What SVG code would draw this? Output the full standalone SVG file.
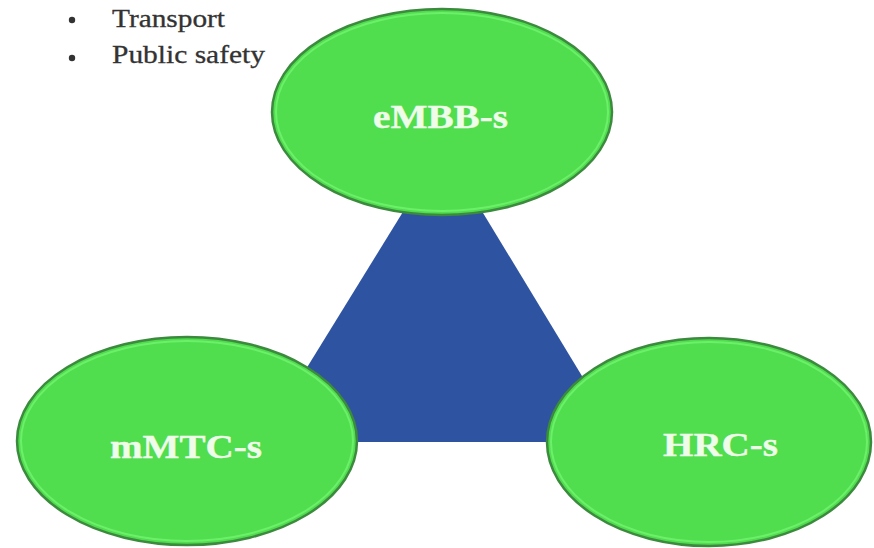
<svg xmlns="http://www.w3.org/2000/svg" width="874" height="548" viewBox="0 0 874 548">
<style>
.node ellipse.body{fill:#50dd4e;stroke:#3b8a3d;stroke-width:2.5}
.node ellipse.rim{fill:none;stroke:#6cf06a;stroke-width:2}
.label{font-family:"Liberation Serif","Times New Roman",serif;font-weight:bold;font-size:34px;fill:#effcea;stroke:#effcea;stroke-width:0.4}
.bullet{font-family:"Liberation Serif","Times New Roman",serif;font-size:25px;fill:#333333;stroke:#333333;stroke-width:0.3}
</style>
<rect width="874" height="548" fill="#ffffff"/>
<g id="bullets">
<circle cx="72" cy="20" r="3.2" fill="#333"/>
<text class="bullet" x="112" y="27" textLength="113" lengthAdjust="spacingAndGlyphs">Transport</text>
<circle cx="72" cy="58" r="3.2" fill="#333"/>
<text class="bullet" x="112" y="63" textLength="153" lengthAdjust="spacingAndGlyphs">Public safety</text>
</g>
<g id="connectors">
<polygon points="443,147 261,442 622,442" fill="#2e53a0"/>
</g>
<g id="embb" class="node">
<ellipse class="body" cx="442" cy="112" rx="170" ry="103"/>
<ellipse class="rim" cx="442" cy="112" rx="166" ry="99"/>
<text class="label" x="373" y="128" textLength="135" lengthAdjust="spacingAndGlyphs">eMBB-s</text>
</g>
<g id="mmtc" class="node">
<ellipse class="body" cx="187" cy="441" rx="170" ry="104"/>
<ellipse class="rim" cx="187" cy="441" rx="166" ry="100"/>
<text class="label" x="110" y="458" textLength="152" lengthAdjust="spacingAndGlyphs">mMTC-s</text>
</g>
<g id="hrc" class="node">
<ellipse class="body" cx="709" cy="442" rx="162" ry="104"/>
<ellipse class="rim" cx="709" cy="442" rx="158" ry="100"/>
<text class="label" x="663" y="456" textLength="115" lengthAdjust="spacingAndGlyphs">HRC-s</text>
</g>
</svg>
